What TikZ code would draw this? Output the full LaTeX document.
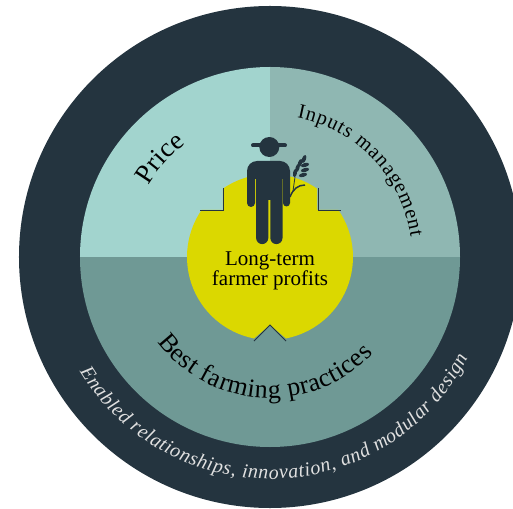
\documentclass[tikz,border=0pt]{standalone}
\usepackage{fontspec}
\setmainfont{Liberation Serif}
\usetikzlibrary{decorations.text}
\definecolor{ringdark}{HTML}{24343F}
\definecolor{pricegreen}{HTML}{A2D4CE}
\definecolor{inputsgreen}{HTML}{8FB7B2}
\definecolor{bestgreen}{HTML}{6F9995}
\definecolor{profityellow}{HTML}{DBD800}
\tikzset{
  arctext/.style={decorate,decoration={text along path,text align=fit to path,text={#1}}},
  stepline/.style={draw=ringdark,line width=0.8pt}
}
\begin{document}
\begin{tikzpicture}[x=1pt,y=1pt]
  \useasboundingbox (-270,-251) rectangle (243,257);
  \clip (-270,-251) rectangle (243,257);
  % rings
  \fill[ringdark] (0,0) circle (251);
  \fill[bestgreen] (-190,0) arc[start angle=180,end angle=360,radius=190] -- cycle;
  \fill[pricegreen] (0,0) -- (-190,0) arc[start angle=180,end angle=90,radius=190] -- cycle;
  \fill[inputsgreen] (0,0) -- (0,190) arc[start angle=90,end angle=0,radius=190] -- cycle;
  % centre
  \fill[profityellow] (124.5:83) arc[start angle=124.5,end angle=55.5,radius=83] -- (47,47) -- (34.5:83)
    arc[start angle=34.5,end angle=-78.9,radius=83] -- (0,-68) -- (-101.1:83)
    arc[start angle=-101.1,end angle=-214.5,radius=83] -- (-47,47) -- cycle;
  \draw[stepline] (-47,69) -- (-47,47) -- (-70,47);
  \draw[stepline] (48,69) -- (48,47) -- (71,47);
  \draw[stepline] (-16,-84) -- (0,-68) -- (16,-84);
  % farmer
  \fill[ringdark] (-0.7,110) circle (10);
  \draw[ringdark,line width=4pt,line cap=round] (-17,111.5) -- (15,111.5);
  \fill[ringdark] (-23,54) [rounded corners=10pt] -- (-23,96) -- (20,96) [sharp corners] -- (20,54)
    arc[start angle=0,end angle=-180,radius=3.5] -- (13,78) -- (12.5,78) -- (12.5,19)
    arc[start angle=0,end angle=-180,radius=6.1] -- (0.3,57) -- (-1.7,57) -- (-1.7,19)
    arc[start angle=0,end angle=-180,radius=6.1] -- (-13.9,78) -- (-15,78) -- (-15,54)
    arc[start angle=0,end angle=-180,radius=4] -- cycle;
  % wheat
  \draw[ringdark,line width=1.5pt] (20,60) .. controls (23,68) and (28,72) .. (35,72);
  \draw[ringdark,line width=0.8pt] (23,66) -- (25,80);
  \foreach \gx/\gy/\ang in {25/84/80,27.5/89/75,30/94/70,33/82/15,35/87/15,35/92/15}
    \fill[ringdark,shift={(\gx,\gy)},rotate=\ang] (0,0) ellipse (4.2 and 2);
  \fill[ringdark,shift={(34,98)},rotate=70] (0,0) ellipse (4.2 and 2);
  % labels
  \node (profits) [align=center,font=\fontsize{21}{20}\selectfont,text=black] at (0,-14) {Long-term\\farmer profits};
  \path[arctext={|\fontsize{27}{25}\selectfont|Price}] (149.5:141) arc[start angle=149.5,end angle=126.5,radius=141];
  \path[arctext={|\fontsize{20.5}{20}\selectfont|Inputs management}] (79:142) arc[start angle=79,end angle=8,radius=142];
  \path[arctext={|\fontsize{26}{25}\selectfont|Best farming practices}] (217:141) arc[start angle=217,end angle=317,radius=141];
  \path[arctext={|\color{white!88!black}\itshape\fontsize{20}{19}\selectfont|Enabled relationships, innovation, and modular design}] (211:222) arc[start angle=211,end angle=333,radius=222];
\end{tikzpicture}
\end{document}
